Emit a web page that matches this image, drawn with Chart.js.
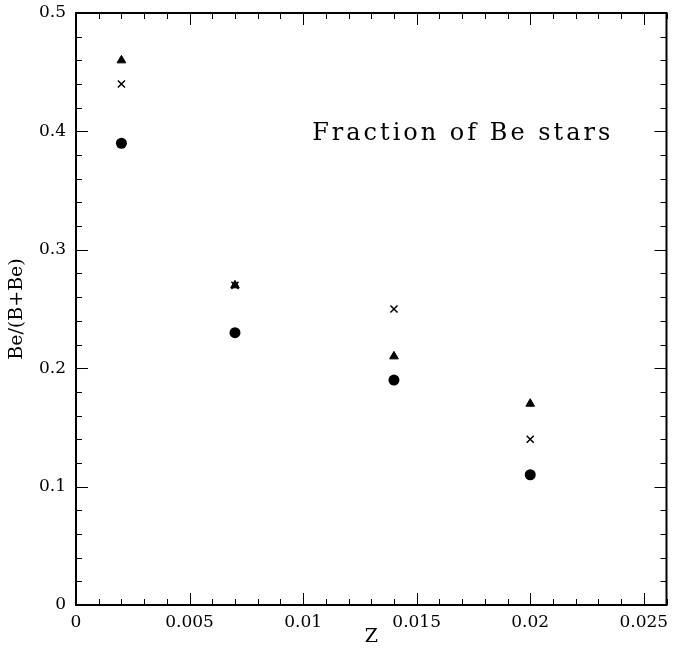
<!DOCTYPE html>
<html>
<head>
<meta charset="utf-8">
<script src="https://cdn.jsdelivr.net/npm/chart.js@4.4.0/dist/chart.umd.min.js"></script>
<style>
  html, body { margin: 0; padding: 0; background: #fff; }
  canvas { display: block; }
</style>
</head>
<body>
<canvas id="myChart" width="673" height="654"></canvas>
<script>
{
  'use strict';

  /* Data */
  const zValues = [0.002, 0.007, 0.014, 0.02];
  const triangleFractions = [0.46, 0.27, 0.21, 0.17];
  const crossFractions = [0.44, 0.27, 0.25, 0.14];
  const circleFractions = [0.39, 0.23, 0.19, 0.11];

  const xTickValues = [0, 0.005, 0.01, 0.015, 0.02, 0.025];
  const xTickLabels = ['0', '0.005', '0.01', '0.015', '0.02', '0.025'];
  const yTickValues = [0, 0.1, 0.2, 0.3, 0.4, 0.5];
  const yTickLabels = ['0', '0.1', '0.2', '0.3', '0.4', '0.5'];

  const noteText = 'Fraction of Be stars';

  const FONT = "'DejaVu Serif', 'Liberation Serif', serif";

  function toPoints(values) {
    return zValues.map((z, i) => ({ x: z, y: values[i] }));
  }

  /* Inward ticks, frame and the note */
  const framePlugin = {
    id: 'frame',
    afterDraw(chart) {
      const ctx = chart.ctx;
      const area = chart.chartArea;
      const xs = chart.scales.x;
      const ys = chart.scales.y;
      ctx.save();
      ctx.strokeStyle = '#000';
      ctx.lineWidth = 1;
      ctx.beginPath();
      // x ticks every 0.001, long every 0.005
      for (let i = 0; i <= 26; i++) {
        const px = Math.round(xs.getPixelForValue(i * 0.001)) + 0.5;
        const len = i % 5 === 0 ? 12 : 6;
        ctx.moveTo(px, area.bottom);
        ctx.lineTo(px, area.bottom - len);
        ctx.moveTo(px, area.top);
        ctx.lineTo(px, area.top + len);
      }
      // y ticks every 0.02, long every 0.1
      for (let i = 0; i <= 25; i++) {
        const py = Math.round(ys.getPixelForValue(i * 0.02)) + 0.5;
        const len = i % 5 === 0 ? 12 : 6;
        ctx.moveTo(area.left, py);
        ctx.lineTo(area.left + len, py);
        ctx.moveTo(area.right, py);
        ctx.lineTo(area.right - len, py);
      }
      ctx.stroke();

      ctx.lineWidth = 2;
      ctx.strokeRect(area.left, area.top, area.right - area.left, area.bottom - area.top);

      // note
      ctx.fillStyle = '#000';
      ctx.font = '24px ' + FONT;
      ctx.textBaseline = 'alphabetic';
      ctx.textAlign = 'left';
      const wanted = 298;
      const plain = ctx.measureText(noteText).width;
      const spacing = (wanted - plain) / (noteText.length - 1);
      if ('letterSpacing' in ctx) {
        ctx.letterSpacing = spacing + 'px';
      }
      ctx.fillText(noteText, xs.getPixelForValue(0.0104), ys.getPixelForValue(0.393));
      ctx.restore();
    }
  };

  function initChart() {
    const ctx = document.getElementById('myChart').getContext('2d');

    const chart = new Chart(ctx, {
      type: 'scatter',
      data: {
        datasets: [
          {
            label: 'triangles',
            data: toPoints(triangleFractions),
            pointStyle: 'triangle',
            pointRadius: 5,
            backgroundColor: '#000',
            borderColor: '#000',
            borderWidth: 1,
          },
          {
            label: 'crosses',
            data: toPoints(crossFractions),
            pointStyle: 'crossRot',
            pointRadius: 5,
            backgroundColor: '#000',
            borderColor: '#000',
            borderWidth: 1.5,
          },
          {
            label: 'circles',
            data: toPoints(circleFractions),
            pointStyle: 'circle',
            pointRadius: 5.5,
            backgroundColor: '#000',
            borderColor: '#000',
            borderWidth: 0,
          },
        ]
      },
      options: {
        responsive: false,
        animation: false,
        layout: {
          padding: { top: 13, right: 3.5, left: 0, bottom: 0 }
        },
        plugins: {
          legend: { display: false },
          tooltip: { enabled: false },
        },
        scales: {
          x: {
            type: 'linear',
            min: 0,
            max: 0.026,
            afterFit: (scale) => {
              scale.height = 49;
              scale.paddingLeft = 0;
              scale.paddingRight = 0;
            },
            afterBuildTicks: (scale) => {
              scale.ticks = xTickValues.map(v => ({ value: v }));
            },
            grid: { display: false, drawTicks: false },
            border: { display: false },
            ticks: {
              padding: 7,
              color: '#000',
              maxRotation: 0,
              font: { family: FONT, size: 17 },
              callback: (value) => {
                const i = xTickValues.findIndex(v => Math.abs(v - value) < 1e-9);
                return i >= 0 ? xTickLabels[i] : '';
              }
            },
            title: {
              display: true,
              text: 'Z',
              color: '#000',
              font: { family: FONT, size: 19 },
              padding: { top: 0, bottom: 6 }
            }
          },
          y: {
            type: 'linear',
            min: 0,
            max: 0.5,
            afterFit: (scale) => {
              scale.width = 76;
              scale.paddingTop = 0;
              scale.paddingBottom = 0;
            },
            afterBuildTicks: (scale) => {
              scale.ticks = yTickValues.map(v => ({ value: v }));
            },
            grid: { display: false, drawTicks: false },
            border: { display: false },
            ticks: {
              padding: 10,
              color: '#000',
              font: { family: FONT, size: 17 },
              callback: (value) => {
                const i = yTickValues.findIndex(v => Math.abs(v - value) < 1e-9);
                return i >= 0 ? yTickLabels[i] : '';
              }
            },
            title: {
              display: true,
              text: 'Be/(B+Be)',
              color: '#000',
              font: { family: FONT, size: 19 },
              padding: { top: 6, bottom: 0 }
            }
          }
        }
      },
      plugins: [framePlugin]
    });
  }

  initChart();
}
</script>
</body>
</html>
